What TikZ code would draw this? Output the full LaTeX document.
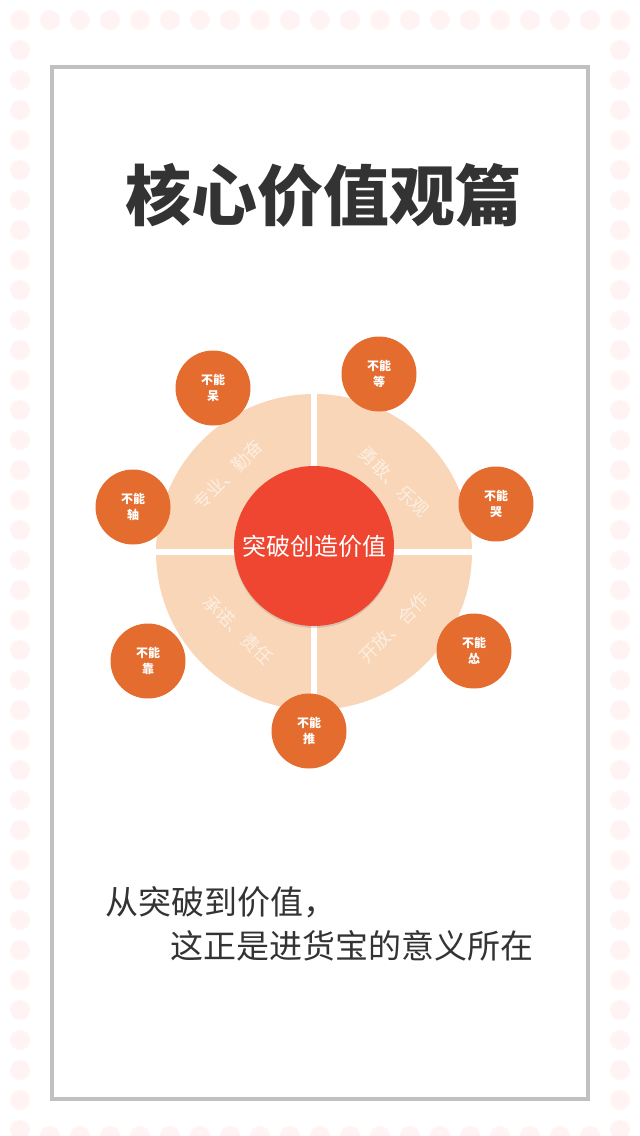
\documentclass[tikz,border=0pt]{standalone}
\usepackage{fontspec}
\setmainfont{Noto Sans CJK SC}
\usetikzlibrary{shadows}

\definecolor{dotpink}{RGB}{255,243,243}
\definecolor{framegray}{RGB}{192,192,192}
\definecolor{peach}{RGB}{249,214,183}
\definecolor{corered}{RGB}{238,70,48}
\definecolor{badgeorange}{RGB}{228,108,46}
\definecolor{inkgray}{RGB}{51,51,51}

\tikzset{
  badge/.style={circle, fill=badgeorange, minimum size=75pt, inner sep=0pt,
    text=white, align=center, font=\fontsize{12}{16}\selectfont\bfseries},
  quarter/.style={inner sep=0pt, text=white, text opacity=0.6, font=\fontsize{18}{18}\selectfont},
  gap/.style={white, line width=6pt},
  closing/.style={anchor=west, inner sep=0pt, text=inkgray, font=\fontsize{33}{33}\selectfont}
}

\begin{document}
\begin{tikzpicture}[x=1pt,y=-1pt]
\useasboundingbox (0,0) rectangle (640,1136);

% dotted border
\foreach \i in {0,...,20}
  \fill[dotpink] (20+30*\i,20) circle (10);
\foreach \i in {1,...,19}
  \fill[dotpink] (20+30*\i,1136) circle (10);
\foreach \j in {1,...,37} {
  \fill[dotpink] (20,20+30*\j) circle (10);
  \fill[dotpink] (620,20+30*\j) circle (10);
}

\draw[framegray, line width=4pt] (52,67) rectangle (588,1099);

\node[text=inkgray, font=\fontsize{66}{66}\selectfont\bfseries] (title) at (323,195) {核心价值观篇};

% wheel
\node[circle, fill=peach, minimum size=316pt, inner sep=0pt] (ring) at (314,552) {};
\draw[gap] (ring.north) -- (ring.south);
\draw[gap] (ring.west) -- (ring.east);

\node[quarter, rotate=45] (q1) at (228,475) {专业、勤奋};
\node[quarter, rotate=-45] (q2) at (394,482) {勇敢、乐观};
\node[quarter, rotate=-45] (q3) at (238,630) {承诺、责任};
\node[quarter, rotate=45] (q4) at (394,628) {开放、合作};

\node[circle, fill=corered, minimum size=160pt, inner sep=0pt,
  drop shadow={opacity=0.25, shadow xshift=0pt, shadow yshift=-2pt},
  text=white, font=\fontsize{24}{24}\selectfont] (core) at (314,546) {突破创造价值};

\node[badge] (dai) at (213,388) {不能\\呆};
\node[badge] (deng) at (379,374) {不能\\等};
\node[badge] (ku) at (496,504) {不能\\哭};
\node[badge] (song) at (474,651) {不能\\怂};
\node[badge] (tui) at (309,731) {不能\\推};
\node[badge] (kao) at (148,661) {不能\\靠};
\node[badge] (zhou) at (133,507) {不能\\轴};

\node[closing] (line1) at (105,902) {从突破到价值，};
\node[closing] (line2) at (170,946) {这正是进货宝的意义所在};
\end{tikzpicture}
\end{document}
